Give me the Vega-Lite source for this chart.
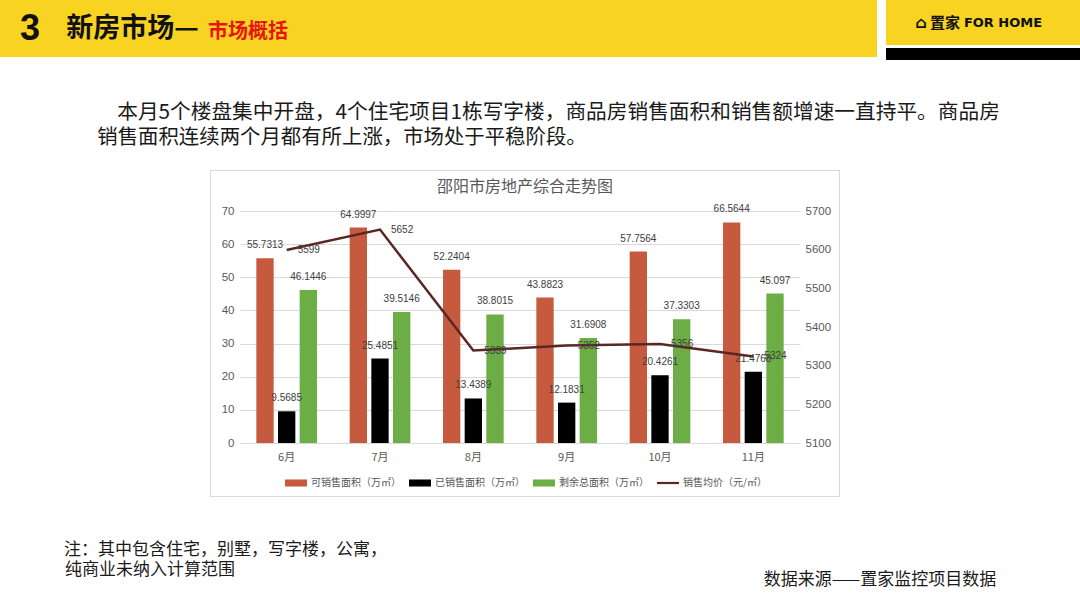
{
  "$schema": "https://vega.github.io/schema/vega-lite/v6.json",
  "background": "white",
  "padding": 0,
  "spacing": 0,
  "config": {"view": {"stroke": null}, "font": "Noto Sans CJK SC", "concat": {"spacing": 0}},
  "datasets": {
    "bars": [
      {"month": "6月", "series": "可销售面积（万㎡）", "value": 55.7313},
      {"month": "6月", "series": "已销售面积（万㎡）", "value": 9.5685},
      {"month": "6月", "series": "剩余总面积（万㎡）", "value": 46.1446},
      {"month": "7月", "series": "可销售面积（万㎡）", "value": 64.9997},
      {"month": "7月", "series": "已销售面积（万㎡）", "value": 25.4851},
      {"month": "7月", "series": "剩余总面积（万㎡）", "value": 39.5146},
      {"month": "8月", "series": "可销售面积（万㎡）", "value": 52.2404},
      {"month": "8月", "series": "已销售面积（万㎡）", "value": 13.4389},
      {"month": "8月", "series": "剩余总面积（万㎡）", "value": 38.8015},
      {"month": "9月", "series": "可销售面积（万㎡）", "value": 43.8823},
      {"month": "9月", "series": "已销售面积（万㎡）", "value": 12.1831},
      {"month": "9月", "series": "剩余总面积（万㎡）", "value": 31.6908},
      {"month": "10月", "series": "可销售面积（万㎡）", "value": 57.7564},
      {"month": "10月", "series": "已销售面积（万㎡）", "value": 20.4261},
      {"month": "10月", "series": "剩余总面积（万㎡）", "value": 37.3303},
      {"month": "11月", "series": "可销售面积（万㎡）", "value": 66.5644},
      {"month": "11月", "series": "已销售面积（万㎡）", "value": 21.4768},
      {"month": "11月", "series": "剩余总面积（万㎡）", "value": 45.097}
    ],
    "price": [
      {"month": "6月", "price": 5599},
      {"month": "7月", "price": 5652},
      {"month": "8月", "price": 5339},
      {"month": "9月", "price": 5352},
      {"month": "10月", "price": 5356},
      {"month": "11月", "price": 5324}
    ]
  },
  "vconcat": [
    {
      "spacing": 0,
      "hconcat": [
        {"width": 60, "height": 57, "view": {"fill": "#F9D322", "stroke": null}, "data": {"values": [{"t": "3"}]}, "mark": {"type": "text", "fontSize": 36, "fontWeight": "bold", "color": "#111111", "font": "Liberation Sans"}, "encoding": {"text": {"field": "t"}}},
        {"width": 145, "height": 57, "view": {"fill": "#F9D322", "stroke": null}, "data": {"values": [{"t": "新房市场—"}]}, "mark": {"type": "text", "fontSize": 27, "fontWeight": "bold", "color": "#111111"}, "encoding": {"text": {"field": "t"}}},
        {"width": 86, "height": 57, "view": {"fill": "#F9D322", "stroke": null}, "data": {"values": [{"t": "市场概括"}]}, "mark": {"type": "text", "fontSize": 20, "fontWeight": "bold", "color": "#E8140C", "dy": 3}, "encoding": {"text": {"field": "t"}}},
        {"width": 586, "height": 57, "view": {"fill": "#F9D322", "stroke": null}, "data": {"values": []}, "mark": "point"},
        {"width": 9, "height": 57, "data": {"values": []}, "mark": "point"},
        {
          "spacing": 0,
          "vconcat": [
            {
              "spacing": 0,
              "hconcat": [
                {"width": 27, "height": 45, "view": {"fill": "#F9D322", "stroke": null}, "data": {"values": []}, "mark": "point"},
                {"width": 16, "height": 45, "view": {"fill": "#F9D322", "stroke": null}, "data": {"values": [{"t": "⌂"}]}, "mark": {"type": "text", "fontSize": 16, "fontWeight": "bold", "color": "#111111", "font": "DejaVu Sans"}, "encoding": {"text": {"field": "t"}}},
                {"width": 32, "height": 45, "view": {"fill": "#F9D322", "stroke": null}, "data": {"values": [{"t": "置家"}]}, "mark": {"type": "text", "fontSize": 15, "fontWeight": "bold", "color": "#111111"}, "encoding": {"text": {"field": "t"}}},
                {"width": 84, "height": 45, "view": {"fill": "#F9D322", "stroke": null}, "data": {"values": [{"t": "FOR HOME"}]}, "mark": {"type": "text", "fontSize": 13, "fontWeight": "bold", "color": "#111111", "font": "DejaVu Sans"}, "encoding": {"text": {"field": "t"}}},
                {"width": 35, "height": 45, "view": {"fill": "#F9D322", "stroke": null}, "data": {"values": []}, "mark": "point"}
              ]
            },
            {"width": 194, "height": 3, "data": {"values": []}, "mark": "point"},
            {"width": 194, "height": 12, "view": {"fill": "#000000", "stroke": null}, "data": {"values": []}, "mark": "point"}
          ]
        }
      ]
    },
    {"width": 10, "height": 40, "data": {"values": []}, "mark": "point"},
    {
      "spacing": 0,
      "hconcat": [
        {"width": 117, "height": 25, "data": {"values": []}, "mark": "point"},
        {"width": 883, "height": 25, "data": {"values": [{"t": "本月5个楼盘集中开盘，4个住宅项目1栋写字楼，商品房销售面积和销售额增速一直持平。商品房"}]}, "mark": {"type": "text", "fontSize": 20.7, "color": "#1A1A1A"}, "encoding": {"text": {"field": "t"}}}
      ]
    },
    {
      "spacing": 0,
      "hconcat": [
        {"width": 97, "height": 25, "data": {"values": []}, "mark": "point"},
        {"width": 490, "height": 25, "data": {"values": [{"t": "销售面积连续两个月都有所上涨，市场处于平稳阶段。"}]}, "mark": {"type": "text", "fontSize": 20.4, "color": "#1A1A1A"}, "encoding": {"text": {"field": "t"}}}
      ]
    },
    {"width": 10, "height": 20, "data": {"values": []}, "mark": "point"},
    {
      "spacing": 0,
      "hconcat": [
        {"width": 210, "height": 327, "data": {"values": []}, "mark": "point"},
        {
          "spacing": 0,
          "vconcat": [
            {"width": 630, "height": 1, "view": {"fill": "#D9D9D9", "stroke": null}, "data": {"values": []}, "mark": "point"},
            {
              "spacing": 0,
              "hconcat": [
                {"width": 1, "height": 325, "view": {"fill": "#D9D9D9", "stroke": null}, "data": {"values": []}, "mark": "point"},
                {
                  "spacing": 0,
                  "vconcat": [
                    {"width": 628, "height": 31, "data": {"values": [{"t": "邵阳市房地产综合走势图"}]}, "mark": {"type": "text", "fontSize": 16, "color": "#595959"}, "encoding": {"text": {"field": "t"}}},
                    {"width": 628, "height": 2, "data": {"values": []}, "mark": "point"},
                    {
                      "spacing": 0,
                      "hconcat": [
                        {"width": 10, "height": 232, "data": {"values": []}, "mark": "point"},
                        {
                          "width": 560, "height": 232,
                          "layer": [
                            {
                              "data": {"name": "bars"},
                              "layer": [
                                {
                                  "mark": {"type": "bar"},
                                  "encoding": {
                                    "x": {"field": "month", "type": "nominal", "sort": ["6月", "7月", "8月", "9月", "10月", "11月"], "scale": {"paddingInner": 0.35, "paddingOuter": 0.175}, "axis": {"title": null, "labelAngle": 0, "ticks": false, "domainColor": "#D9D9D9", "labelColor": "#595959", "labelFontSize": 11, "labelPadding": 8}},
                                    "xOffset": {"field": "series", "type": "nominal", "sort": ["可销售面积（万㎡）", "已销售面积（万㎡）", "剩余总面积（万㎡）"], "scale": {"paddingInner": 0.2}},
                                    "y": {"field": "value", "type": "quantitative", "scale": {"domain": [0, 70], "nice": false}, "axis": {"title": null, "values": [0, 10, 20, 30, 40, 50, 60, 70], "domain": false, "ticks": false, "grid": true, "gridColor": "#D9D9D9", "labelColor": "#595959", "labelFontSize": 11.5, "labelPadding": 6, "labelFont": "Liberation Sans"}},
                                    "color": {
                                      "field": "series", "type": "nominal",
                                      "scale": {"domain": ["可销售面积（万㎡）", "已销售面积（万㎡）", "剩余总面积（万㎡）", "销售均价（元/㎡）"], "range": ["#C65A3F", "#000000", "#6CAD45", "#5B2626"]},
                                      "legend": {
                                        "title": null, "orient": "none", "legendX": 285, "legendY": 472, "direction": "horizontal",
                                        "labelFont": "Noto Sans CJK SC", "labelFontSize": 10, "labelColor": "#595959", "labelOffset": 4, "columnPadding": 8,
                                        "symbolSize": 484,
                                        "encode": {
                                          "symbols": {
                                            "update": {
                                              "shape": {"signal": "datum.value === '销售均价（元/㎡）' ? 'M-1,-0.1H1V0.1H-1Z' : 'M-1,-0.32H1V0.32H-1Z'"},
                                              "fill": {"signal": "datum.value === '可销售面积（万㎡）' ? '#C65A3F' : datum.value === '已销售面积（万㎡）' ? '#000000' : datum.value === '剩余总面积（万㎡）' ? '#6CAD45' : '#5B2626'"},
                                              "fillOpacity": {"value": 1},
                                              "opacity": {"value": 1},
                                              "strokeWidth": {"value": 0}
                                            }
                                          }
                                        }
                                      }
                                    }
                                  }
                                },
                                {
                                  "mark": {"type": "text", "baseline": "bottom", "dy": -8, "fontSize": 10, "font": "Liberation Sans", "color": "#404040"},
                                  "encoding": {
                                    "x": {"field": "month", "type": "nominal", "sort": ["6月", "7月", "8月", "9月", "10月", "11月"], "scale": {"paddingInner": 0.35, "paddingOuter": 0.175}, "axis": {"title": null, "labelAngle": 0, "ticks": false, "domainColor": "#D9D9D9", "labelColor": "#595959", "labelFontSize": 11, "labelPadding": 8}},
                                    "xOffset": {"field": "series", "type": "nominal", "sort": ["可销售面积（万㎡）", "已销售面积（万㎡）", "剩余总面积（万㎡）"], "scale": {"paddingInner": 0.2}},
                                    "y": {"field": "value", "type": "quantitative", "axis": {"title": null, "values": [0, 10, 20, 30, 40, 50, 60, 70], "domain": false, "ticks": false, "grid": true, "gridColor": "#D9D9D9", "labelColor": "#595959", "labelFontSize": 11.5, "labelPadding": 6, "labelFont": "Liberation Sans"}},
                                    "text": {"field": "value", "type": "nominal"}
                                  }
                                }
                              ]
                            },
                            {
                              "data": {"name": "price"},
                              "layer": [
                                {
                                  "mark": {"type": "line", "strokeWidth": 2.5},
                                  "encoding": {
                                    "x": {"field": "month", "type": "nominal", "sort": ["6月", "7月", "8月", "9月", "10月", "11月"], "scale": {"paddingInner": 0.35, "paddingOuter": 0.175}, "axis": {"title": null, "labelAngle": 0, "ticks": false, "domainColor": "#D9D9D9", "labelColor": "#595959", "labelFontSize": 11, "labelPadding": 8}},
                                    "y": {"field": "price", "type": "quantitative", "scale": {"domain": [5100, 5700], "nice": false}, "axis": {"orient": "right", "title": null, "format": "d", "values": [5100, 5200, 5300, 5400, 5500, 5600, 5700], "domain": false, "ticks": false, "grid": false, "labelColor": "#595959", "labelFontSize": 11.5, "labelPadding": 5, "labelFont": "Liberation Sans"}},
                                    "color": {"datum": "销售均价（元/㎡）"}
                                  }
                                },
                                {
                                  "mark": {"type": "text", "align": "left", "dx": 11, "baseline": "middle", "fontSize": 10, "font": "Liberation Sans", "color": "#404040"},
                                  "encoding": {
                                    "x": {"field": "month", "type": "nominal", "sort": ["6月", "7月", "8月", "9月", "10月", "11月"], "scale": {"paddingInner": 0.35, "paddingOuter": 0.175}, "axis": {"title": null, "labelAngle": 0, "ticks": false, "domainColor": "#D9D9D9", "labelColor": "#595959", "labelFontSize": 11, "labelPadding": 8}},
                                    "y": {"field": "price", "type": "quantitative", "axis": {"orient": "right", "title": null, "format": "d", "values": [5100, 5200, 5300, 5400, 5500, 5600, 5700], "domain": false, "ticks": false, "grid": false, "labelColor": "#595959", "labelFontSize": 11.5, "labelPadding": 5, "labelFont": "Liberation Sans"}},
                                    "text": {"field": "price", "type": "nominal"}
                                  }
                                }
                              ]
                            }
                          ],
                          "resolve": {"scale": {"y": "independent"}}
                        },
                        {"width": 8, "height": 232, "data": {"values": []}, "mark": "point"}
                      ]
                    },
                    {"width": 628, "height": 32, "data": {"values": []}, "mark": "point"}
                  ]
                },
                {"width": 1, "height": 325, "view": {"fill": "#D9D9D9", "stroke": null}, "data": {"values": []}, "mark": "point"}
              ]
            },
            {"width": 630, "height": 1, "view": {"fill": "#D9D9D9", "stroke": null}, "data": {"values": []}, "mark": "point"}
          ]
        }
      ]
    },
    {"width": 10, "height": 43, "data": {"values": []}, "mark": "point"},
    {
      "spacing": 0,
      "hconcat": [
        {"width": 63, "height": 20, "data": {"values": []}, "mark": "point"},
        {"width": 325, "height": 20, "data": {"values": [{"t": "注：其中包含住宅，别墅，写字楼，公寓，"}]}, "mark": {"type": "text", "fontSize": 17, "color": "#1A1A1A"}, "encoding": {"text": {"field": "t"}}}
      ]
    },
    {
      "spacing": 0,
      "hconcat": [
        {"width": 63, "height": 20, "data": {"values": []}, "mark": "point"},
        {"width": 174, "height": 20, "data": {"values": [{"t": "纯商业未纳入计算范围"}]}, "mark": {"type": "text", "fontSize": 17, "color": "#1A1A1A"}, "encoding": {"text": {"field": "t"}}},
        {"width": 523, "height": 20, "data": {"values": []}, "mark": "point"},
        {"width": 240, "height": 40, "data": {"values": [{"t": "数据来源——置家监控项目数据"}]}, "mark": {"type": "text", "fontSize": 17, "color": "#1A1A1A"}, "encoding": {"text": {"field": "t"}}}
      ]
    }
  ]
}
